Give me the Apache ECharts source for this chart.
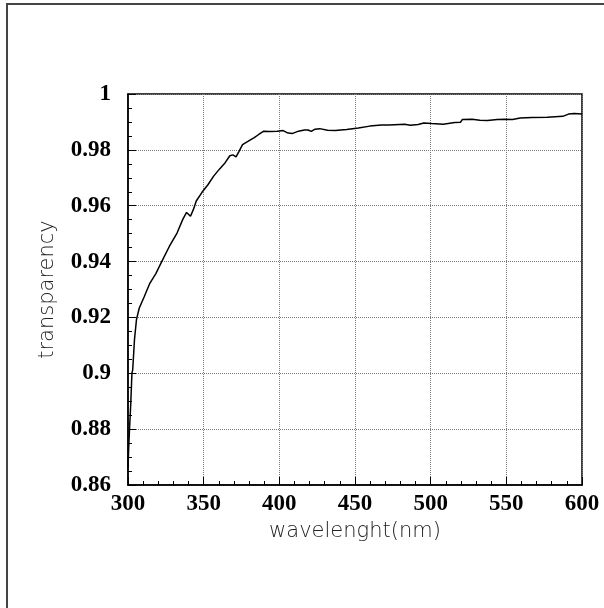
<!DOCTYPE html>
<html>
<head>
<meta charset="utf-8">
<script src="https://cdn.jsdelivr.net/npm/echarts@6/dist/echarts.min.js"></script>
<style>html,body{margin:0;padding:0;background:#fff}#c{width:604px;height:608px}</style>
</head>
<body>
<div id="c"></div>
<script>
const wavelength = [300,300.5,301,301.8,302.6,303.1,304.3,305.6,307.4,310.7,314.5,318.4,322.2,327.3,332.4,336.2,338.7,340,341.3,343.1,345.1,348.9,352.8,356.6,360.4,364.2,367.3,369.3,371.4,373.2,375.7,379.5,383.4,386.4,389.7,393.5,398.6,402.5,405.8,408.8,412.7,416.5,419,421.1,423.6,426.7,431.8,436.9,444.5,452.2,459.8,467.5,472.6,482.8,486.6,491.7,495.5,500.6,508.3,515.9,519.7,521,527.4,532.5,537.6,544,549,554.1,559.2,566.9,577.1,587.3,591.1,595,600];
const transparency = [0.866,0.874,0.880,0.8888,0.900,0.9012,0.9122,0.9192,0.9233,0.9274,0.9323,0.9357,0.9399,0.9454,0.9502,0.9551,0.9576,0.9581,0.9562,0.9585,0.9617,0.9648,0.9675,0.9706,0.9731,0.9754,0.9779,0.9782,0.9775,0.9793,0.9819,0.9831,0.9844,0.9855,0.9867,0.9866,0.9867,0.9869,0.9860,0.9859,0.9867,0.9871,0.9871,0.9866,0.9874,0.9876,0.9870,0.9869,0.9873,0.9878,0.9885,0.9889,0.9889,0.9892,0.9888,0.9891,0.9896,0.9894,0.9892,0.9898,0.9899,0.9909,0.9910,0.9906,0.9905,0.9909,0.9910,0.9909,0.9914,0.9916,0.9917,0.9920,0.9928,0.9930,0.9928];
const xTicks = [300,350,400,450,500,550,600];
const yTicks = [0.86,0.88,0.9,0.92,0.94,0.96,0.98,1];

const chart = echarts.init(document.getElementById('c'), null, {renderer:'canvas'});
const labelFont = {fontFamily:'Liberation Serif', fontWeight:'bold', fontSize:23, color:'#000'};
const nameFont = {fontFamily:'DejaVu Sans', fontWeight:200, fontSize:21, color:'#222'};
chart.setOption({
  animation:false,
  backgroundColor:'#fff',
  graphic:[{type:'polyline', shape:{points:[[7,612],[7,4],[610,4]]}, style:{stroke:'#444', lineWidth:2, fill:null}, silent:true}],
  grid:{left:128, right:22, top:94, bottom:123, show:true, borderColor:'#000', borderWidth:1.5},
  xAxis:{type:'value', min:xTicks[0], max:xTicks[xTicks.length-1], interval:50,
    name:'wavelenght(nm)', nameLocation:'middle', nameGap:24, nameTextStyle:nameFont,
    axisLine:{show:true, lineStyle:{color:'#000', width:1.5}},
    axisTick:{show:true, inside:true, length:8, lineStyle:{color:'#000'}},
    minorTick:{show:true, splitNumber:5, length:4, lineStyle:{color:'#000'}},
    splitLine:{show:true, lineStyle:{type:'dotted', color:'#777', width:1}},
    axisLabel:Object.assign({margin:8, formatter:v=>String(v)}, labelFont)},
  yAxis:{type:'value', min:yTicks[0], max:yTicks[yTicks.length-1], interval:0.02,
    name:'transparency', nameLocation:'middle', nameGap:70, nameTextStyle:nameFont,
    axisLine:{show:true, lineStyle:{color:'#000', width:1.5}},
    axisTick:{show:true, inside:true, length:8, lineStyle:{color:'#000'}},
    minorTick:{show:true, splitNumber:4, length:4, lineStyle:{color:'#000'}},
    splitLine:{show:true, lineStyle:{type:'dotted', color:'#777', width:1}},
    axisLabel:Object.assign({margin:17, formatter:v=>String(+v.toFixed(2))}, labelFont)},
  series:[{type:'line', data:wavelength.map((w,i)=>[w,transparency[i]]), showSymbol:false, symbol:'none',
    lineStyle:{color:'#000', width:1.5}, smooth:false}]
});
</script>
</body>
</html>
